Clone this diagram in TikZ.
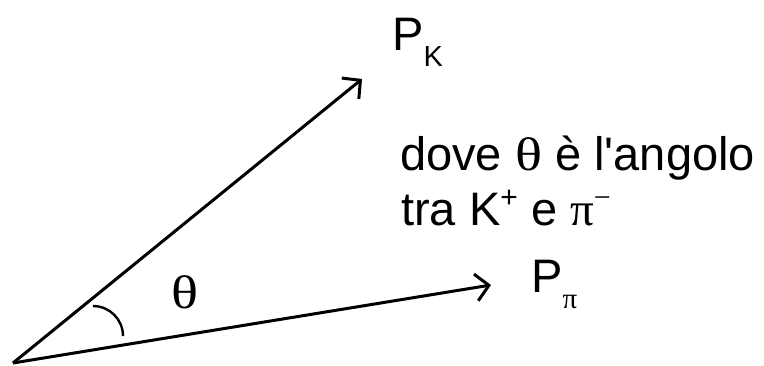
\documentclass[tikz,border=0pt]{standalone}
\usepackage{fontspec}
\setmainfont{Liberation Sans}[Ligatures=TeXOff]
\newfontfamily\grk{Liberation Serif}
\usepackage{tikz}
\usetikzlibrary{arrows.meta, positioning}
\newcommand{\lowidx}[1]{\raisebox{-0.36em}{\fontsize{29}{29}\selectfont #1}}
\newcommand{\upidx}[1]{\raisebox{0.38em}{\fontsize{30}{30}\selectfont #1}}
\newcommand{\wth}{\scalebox{1.2}[1]{\grk θ}}

\begin{document}
\begin{tikzpicture}[x=1pt, y=-1pt,
    vect/.style={line width=3pt, -{Straight Barb[length=13pt, width=27pt, line width=3pt]}},
    lbl/.style={inner sep=0pt, anchor=base west, font=\fontsize{47}{56}\selectfont}]
    \useasboundingbox (0,0) rectangle (764,365);
    \coordinate (o) at (13,363);
    \coordinate (kend) at (362,79);
    \coordinate (piend) at (491,285);
    \draw[vect] (o) -- (kend);
    \draw[vect] (o) -- (piend);
    % angle mark
    \draw[line width=2.4pt] (93,306) arc[start angle=-90, end angle=0, radius=30];
    \node[lbl] (theta) at (171,308) {\wth};
    \node[lbl] (pk) at (392,50) {P\lowidx{K}};
    \node[lbl] (ppi) at (531,292) {P\lowidx{\grk π}};
    \node[lbl] (note1) at (400,170) {dove \wth{} è l'angolo};
    \node[lbl] (note2) at (401,225) {tra K\upidx{+} e {\grk π}\upidx{\grk −}};
\end{tikzpicture}
\end{document}
